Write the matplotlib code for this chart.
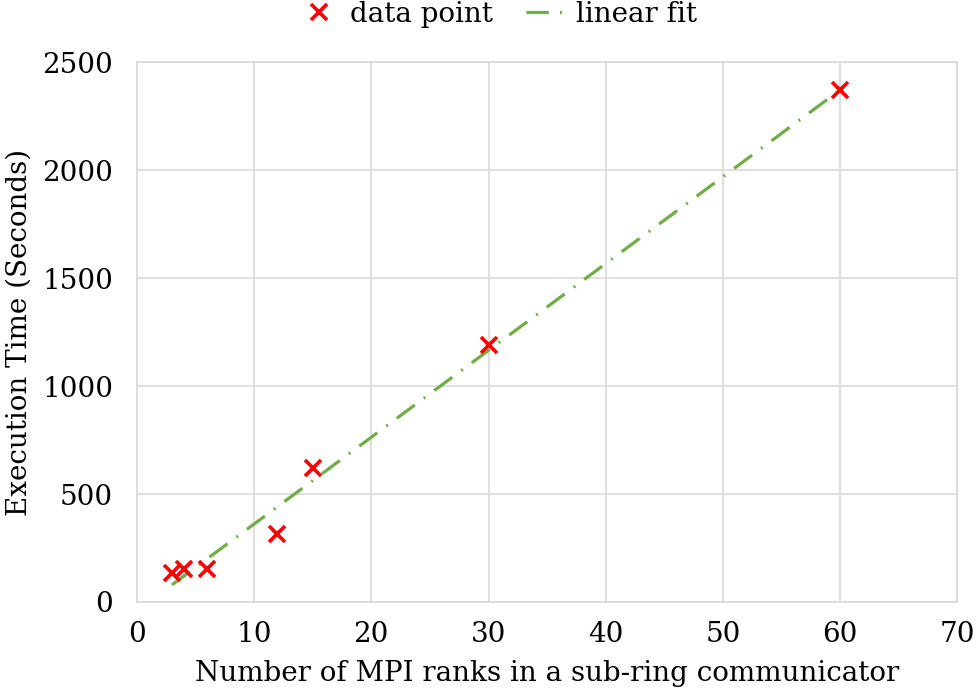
import numpy as np
import matplotlib
matplotlib.use("Agg")
import matplotlib.pyplot as plot

# data
ranks = [3, 4, 6, 12, 15, 30, 60]
execTime = [135, 155, 155, 315, 620, 1190, 2370]

xTicks = [0, 10, 20, 30, 40, 50, 60, 70]
yTicks = [0, 500, 1000, 1500, 2000, 2500]

plot.rcParams['font.family'] = ['DejaVu Serif']
plot.rcParams['font.size'] = 20

figure, axis = plot.subplots(figsize=(9.77, 7.0), dpi=100)
figure.subplots_adjust(left=0.14, right=0.98, top=0.911, bottom=0.14)

# least squares line through the points
slope, intercept = np.polyfit(ranks, execTime, 1)
fitX = np.array([min(ranks), max(ranks)])
fitY = slope * fitX + intercept

axis.plot(ranks, execTime, linestyle='none', marker='x', color='#ff0000',
          markersize=12, markeredgewidth=2.6, label='data point', zorder=3)
axis.plot(fitX, fitY, color='#70ad47', linewidth=2.3,
          dashes=(7.0, 3.5, 0.6, 3.5), label='linear fit', zorder=2)

axis.set_xlim(0, 70)
axis.set_ylim(0, 2500)
axis.set_xticks(xTicks)
axis.set_yticks(yTicks)
axis.grid(True, color='#d9d9d9', linewidth=1.2)
axis.set_axisbelow(True)
for spine in axis.spines.values():
    spine.set_color('#d9d9d9')
    spine.set_linewidth(1.2)
axis.tick_params(axis='x', length=0, pad=14, labelsize=20)
axis.tick_params(axis='y', length=0, pad=17, labelsize=20)

axis.set_xlabel('Number of MPI ranks in a sub-ring communicator', fontsize=20, labelpad=8)
axis.set_ylabel('Execution Time (Seconds)', fontsize=20, labelpad=7)

figure.legend(*axis.get_legend_handles_labels(), loc='upper center',
              bbox_to_anchor=(0.51, 1.035), ncol=2, frameon=False,
              fontsize=20, handlelength=1.4, columnspacing=1.2, handletextpad=0.4)

figure.savefig('out.png', dpi=100)
